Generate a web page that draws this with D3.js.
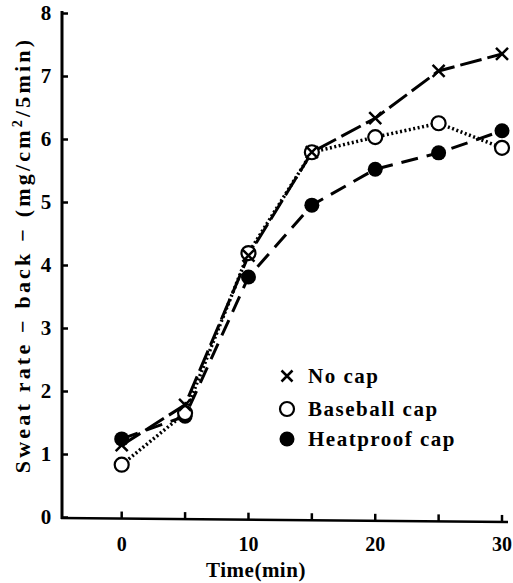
<!DOCTYPE html>
<html><head><meta charset="utf-8">
<script src="https://cdn.jsdelivr.net/npm/d3@7"></script>
<style>body{margin:0;background:#fff}svg{display:block}
text{font-family:"Liberation Serif","Times New Roman","DejaVu Serif",serif;font-weight:bold}</style>
</head><body>
<svg id="c" width="513" height="583"></svg>
<script>
const times = [0, 5, 10, 15, 20, 25, 30];
const noCap = [1.14, 1.78, 4.15, 5.79, 6.33, 7.08, 7.35];
const baseballCap = [0.83, 1.65, 4.19, 5.79, 6.03, 6.25, 5.86];
const heatproofCap = [1.24, 1.6, 3.81, 4.95, 5.52, 5.78, 6.13];
const xTicks = [0, 5, 10, 15, 20, 25, 30];
const xTickLabels = [0, 10, 20, 30];
const yTicks = [0, 1, 2, 3, 4, 5, 6, 7, 8];
const seriesNames = ["No cap", "Baseball cap", "Heatproof cap"];

const svg = d3.select("#c");
const x = d3.scaleLinear().domain([0, 30]).range([121.7, 502]);
const y = d3.scaleLinear().domain([0, 8]).range([517, 13]);
const axX = 62, axY = 518;

svg.append("line").attr("x1", axX).attr("x2", axX).attr("y1", 11).attr("y2", axY + 1)
  .attr("stroke", "#000").attr("stroke-width", 3);
svg.append("line").attr("x1", axX - 1).attr("x2", 508).attr("y1", axY).attr("y2", axY + 4)
  .attr("stroke", "#000").attr("stroke-width", 2.5);

const yAxis = d3.axisRight(y).tickValues(yTicks).tickSize(6).tickFormat("");
const gy = svg.append("g").attr("transform", `translate(${axX},0)`).call(yAxis);
gy.select(".domain").remove();
gy.selectAll("line").attr("stroke", "#000").attr("stroke-width", 2.5);
svg.selectAll(".ylab").data(yTicks).enter().append("text")
  .attr("x", 46).attr("y", d => y(d) + 7).attr("text-anchor", "middle")
  .attr("font-size", 21).text(d => d);

const xAxis = d3.axisTop(x).tickValues(xTicks).tickSize(7).tickFormat("");
const gx = svg.append("g").attr("transform", `translate(0,${axY})`).call(xAxis);
gx.select(".domain").remove();
gx.selectAll(".tick").attr("transform", d => `translate(${x(d)},${(x(d) - axX) / (508 - axX) * 4})`);
gx.selectAll("line").attr("stroke", "#000").attr("stroke-width", 2.5);
svg.selectAll(".xlab").data(xTickLabels).enter().append("text")
  .attr("x", d => x(d)).attr("y", 551).attr("text-anchor", "middle")
  .attr("font-size", 20).text(d => d);
svg.append("text").attr("x", 256).attr("y", 577).attr("text-anchor", "middle")
  .attr("font-size", 21).attr("letter-spacing", 0.5).text("Time(min)");

const yl = svg.append("text").attr("transform", "translate(30,255) rotate(-90)")
  .attr("text-anchor", "middle").attr("font-size", 22).attr("letter-spacing", 3.2);
yl.append("tspan").text("Sweat rate \u2212 back \u2212 (mg/cm");
yl.append("tspan").attr("dy", -8).attr("font-size", 14).text("2");
yl.append("tspan").attr("dy", 8).text("/5min)");

const line = vals => d3.line().x((d, i) => x(times[i])).y(d => y(d))(vals);
svg.append("path").attr("d", line(noCap)).attr("fill", "none").attr("stroke", "#000")
  .attr("stroke-width", 3).attr("stroke-dasharray", "22,6");
svg.append("path").attr("d", line(baseballCap)).attr("fill", "none").attr("stroke", "#000")
  .attr("stroke-width", 3.5).attr("stroke-dasharray", "2,2.5");
svg.append("path").attr("d", line(heatproofCap)).attr("fill", "none").attr("stroke", "#000")
  .attr("stroke-width", 3).attr("stroke-dasharray", "17,9");

function cross(g, cx, cy, s) {
  g.append("path").attr("d", `M${cx - s},${cy - s}L${cx + s},${cy + s}M${cx - s},${cy + s}L${cx + s},${cy - s}`)
    .attr("stroke", "#000").attr("stroke-width", 2.5).attr("fill", "none");
}
const gm = svg.append("g");
heatproofCap.forEach((v, i) => gm.append("circle").attr("cx", x(times[i])).attr("cy", y(v)).attr("r", 7.5).attr("fill", "#000"));
baseballCap.forEach((v, i) => gm.append("circle").attr("cx", x(times[i])).attr("cy", y(v)).attr("r", 7).attr("fill", "#fff").attr("stroke", "#000").attr("stroke-width", 2.2));
noCap.forEach((v, i) => cross(gm, x(times[i]), y(v), 6));

const lg = svg.append("g");
const ly = [376, 409, 439];
cross(lg, 287, ly[0], 5.5);
lg.append("circle").attr("cx", 287).attr("cy", ly[1]).attr("r", 7).attr("fill", "#fff").attr("stroke", "#000").attr("stroke-width", 2.2);
lg.append("circle").attr("cx", 287).attr("cy", ly[2]).attr("r", 7.5).attr("fill", "#000");
seriesNames.forEach((n, i) => lg.append("text").attr("x", 308).attr("y", ly[i] + 7)
  .attr("font-size", 21).attr("letter-spacing", 1.5).text(n));
</script>
</body></html>
